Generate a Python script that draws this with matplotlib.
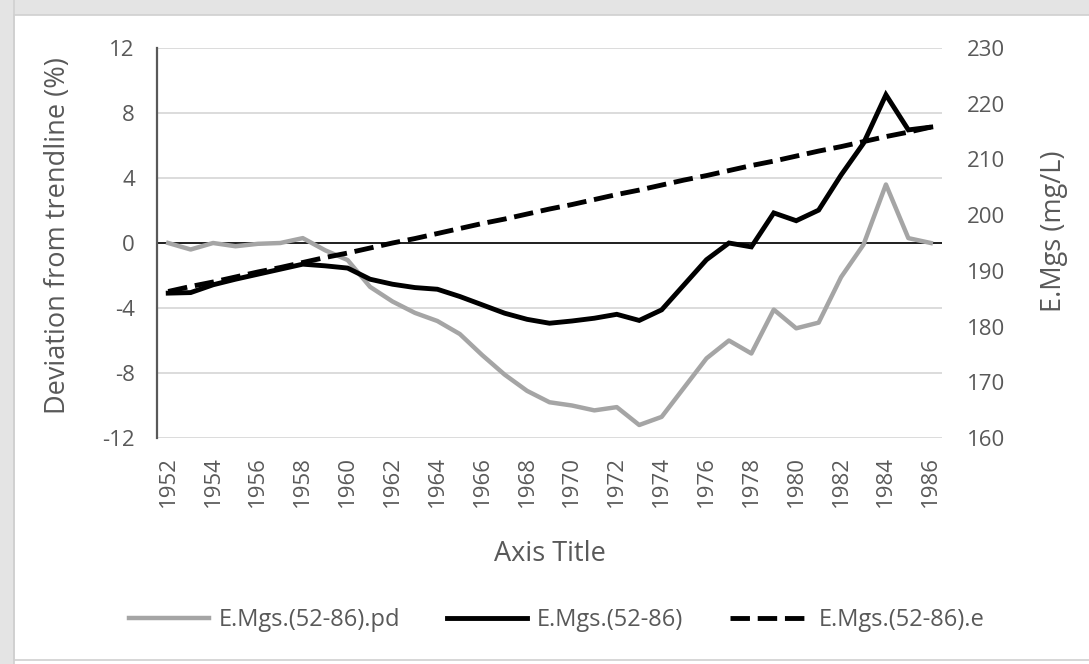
import matplotlib
matplotlib.use("Agg")
import matplotlib.pyplot as plt
from matplotlib.patches import Rectangle

plt.rcParams["font.family"] = ["Open Sans", "DejaVu Sans"]
plt.rcParams["axes.unicode_minus"] = False

YEARS = list(range(1952, 1987))

# % deviation from trendline (left axis)
PD = [0.0, -0.4, 0.0, -0.2, -0.05, 0.0, 0.3, -0.45, -1.05, -2.7, -3.6, -4.3, -4.8,
      -5.6, -6.9, -8.1, -9.1, -9.8, -10.0, -10.3, -10.1, -11.2, -10.7, -8.9, -7.1,
      -6.0, -6.8, -4.1, -5.25, -4.9, -2.1, -0.1, 3.6, 0.3, 0.0]

# E.Mgs in mg/L (right axis)
MGS = [186.0, 186.1, 187.5, 188.5, 189.4, 190.3, 191.2, 190.9, 190.5, 188.5, 187.6,
       187.0, 186.7, 185.4, 183.9, 182.4, 181.3, 180.6, 181.0, 181.5, 182.2, 181.1,
       183.0, 187.5, 192.0, 195.0, 194.3, 200.4, 199.0, 200.9, 207.2, 212.9, 221.6,
       215.3, 215.8]

# expected (trend) E.Mgs
MGS_E = [186.3, 187.2, 188.0, 188.9, 189.8, 190.6, 191.5, 192.4, 193.2, 194.1, 195.0,
         195.8, 196.7, 197.6, 198.5, 199.3, 200.2, 201.1, 201.9, 202.8, 203.7, 204.5,
         205.4, 206.3, 207.1, 208.0, 208.9, 209.7, 210.6, 211.5, 212.3, 213.2, 214.1,
         214.9, 215.8]

LEFT_TICKS = [-12, -8, -4, 0, 4, 8, 12]
RIGHT_TICKS = [160, 170, 180, 190, 200, 210, 220, 230]

TXT = "#595959"
W, H = 1089, 664

fig = plt.figure(figsize=(W / 100, H / 100), dpi=100, facecolor="#e4e4e4")
fig.patches.append(Rectangle((14 / W, -0.01), 1, 1 - 15 / H + 0.01, transform=fig.transFigure,
                             facecolor="white", edgecolor="#d0d0d0", lw=1.2, zorder=-2))
fig.patches.append(Rectangle((14 / W, 4 / H), 1, 1, transform=fig.transFigure,
                             facecolor="none", edgecolor="#d0d0d0", lw=1.2, zorder=-1))

ax = fig.add_axes([157 / W, 1 - 438 / H, 785 / W, 390 / H])
ax.set_facecolor("none")
x = list(range(len(YEARS)))

ax.plot(x, PD, color="#a5a5a5", lw=3.2, solid_joinstyle="round", label="E.Mgs.(52-86).pd")
ax.axhline(0, color="black", lw=1.2, zorder=1)
ax.set_ylim(-12, 12)
ax.set_yticks(LEFT_TICKS)
ax.set_xlim(-0.5, len(YEARS) - 0.5)
ax.set_xticks(x[::2])
ax.set_xticklabels([str(y) for y in YEARS[::2]], rotation=90)
ax.grid(axis="y", color="#d9d9d9", lw=1.3)
ax.set_axisbelow(True)
for s in ["top", "right", "bottom"]:
    ax.spines[s].set_visible(False)
ax.spines["left"].set_color("#595959")
ax.spines["left"].set_linewidth(1.6)
ax.tick_params(axis="y", length=0, pad=16, labelsize=16, labelcolor=TXT)
ax.tick_params(axis="x", length=0, pad=13, labelsize=16, labelcolor=TXT)
ax.set_ylabel("Deviation from trendline (%)", fontsize=19.5, color=TXT)
ax.yaxis.set_label_coords(-0.108, 0.52)
ax.set_xlabel("Axis Title", fontsize=19.5, color=TXT)
ax.xaxis.set_label_coords(0.5, -0.262)

ax2 = ax.twinx()
ax2.plot(x, MGS, color="black", lw=3.5, solid_joinstyle="miter", label="E.Mgs.(52-86)")
ax2.plot(x, MGS_E, color="black", lw=3.5, dashes=(4.0, 1.6), label="E.Mgs.(52-86).e")
ax2.set_ylim(160, 230)
ax2.set_yticks(RIGHT_TICKS)
for s in ax2.spines.values():
    s.set_visible(False)
ax2.tick_params(axis="y", length=0, pad=18, labelsize=16, labelcolor=TXT)
ax2.set_ylabel("E.Mgs (mg/L)", fontsize=19.5, color=TXT, rotation=90)
ax2.yaxis.set_label_coords(1.125, 0.53)

h1, l1 = ax.get_legend_handles_labels()
h2, l2 = ax2.get_legend_handles_labels()
leg = fig.legend(h1 + h2, l1 + l2, loc="center", ncol=3, frameon=False,
                 bbox_to_anchor=(557 / W, 1 - 620 / H), fontsize=17,
                 handlelength=3.4, handletextpad=0.38, columnspacing=2.0)
for t in leg.get_texts():
    t.set_color(TXT)

fig.savefig("out.png", dpi=100, facecolor=fig.get_facecolor())
